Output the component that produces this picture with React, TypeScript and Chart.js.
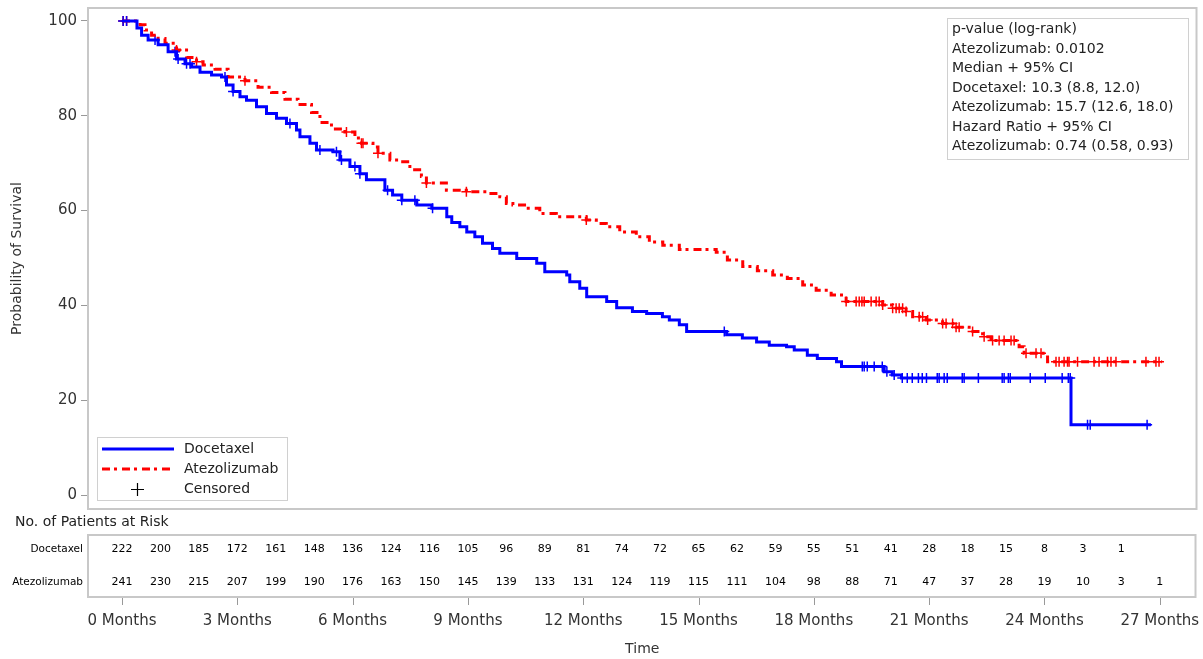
import React, { useEffect, useRef } from "react";
import { Chart, registerables } from "chart.js";

Chart.register(...registerables);

const FONT = "'DejaVu Sans', sans-serif";

// Kaplan-Meier step data (months, survival %)
const docetaxelTime = [0, 0.39, 0.51, 0.68, 0.94, 1.2, 1.42, 1.64, 1.81, 2.03, 2.33, 2.59, 2.72, 2.89, 3.07, 3.24, 3.5, 3.76, 4.02, 4.28, 4.54, 4.63, 4.89, 5.06, 5.49, 5.67, 5.93, 6.19, 6.36, 6.84, 7.04, 7.28, 7.67, 8.06, 8.45, 8.58, 8.79, 8.97, 9.18, 9.38, 9.64, 9.83, 10.27, 10.79, 11.0, 11.57, 11.65, 11.91, 12.09, 12.61, 12.87, 13.28, 13.65, 14.06, 14.24, 14.5, 14.69, 15.73, 16.14, 16.51, 16.84, 17.29, 17.49, 17.83, 18.09, 18.59, 18.72, 19.83, 20.04, 20.28, 24.69, 26.77];
const docetaxelSurv = [100, 98.5, 97, 96, 95, 93.5, 92, 91, 90.3, 89.2, 88.6, 88.2, 86.5, 85.1, 84, 83.3, 81.9, 80.5, 79.5, 78.4, 77, 75.6, 74.2, 72.8, 72.4, 70.7, 69.3, 67.8, 66.5, 64.3, 63.3, 62.2, 61.2, 60.5, 58.7, 57.5, 56.6, 55.5, 54.5, 53.1, 52, 51, 49.9, 48.9, 47.1, 46.4, 45, 43.6, 41.8, 40.8, 39.5, 38.7, 38.3, 37.6, 36.9, 35.9, 34.5, 33.8, 33.1, 32.3, 31.6, 31.3, 30.6, 29.5, 28.8, 28.1, 27.1, 26, 25.3, 24.7, 14.8, 14.8];
const docetaxelCensor = [0.03, 0.12, 0.86, 1.38, 1.46, 1.68, 1.77, 2.68, 2.89, 4.37, 5.15, 5.58, 5.71, 6.06, 6.19, 6.91, 7.28, 7.62, 8.08, 15.67, 19.26, 19.31, 19.39, 19.57, 19.78, 19.9, 20.09, 20.3, 20.43, 20.56, 20.72, 20.82, 20.93, 21.21, 21.26, 21.39, 21.47, 21.86, 21.91, 22.28, 22.9, 22.95, 23.06, 23.11, 23.63, 24.02, 24.46, 24.62, 24.67, 25.12, 25.19, 26.67];

const atezoTime = [0, 0.47, 0.6, 0.77, 0.94, 1.12, 1.42, 1.68, 1.94, 2.11, 2.42, 2.76, 3.2, 3.54, 3.89, 4.24, 4.58, 4.93, 5.15, 5.45, 5.8, 6.06, 6.23, 6.53, 6.66, 6.97, 7.23, 7.49, 7.79, 7.92, 8.44, 8.96, 9.48, 9.83, 10.0, 10.17, 10.52, 10.87, 11.3, 12.08, 12.34, 12.6, 12.95, 13.38, 13.72, 14.07, 14.5, 15.46, 15.75, 16.15, 16.53, 16.93, 17.31, 17.71, 18.06, 18.45, 18.84, 19.79, 20.05, 20.4, 20.57, 20.92, 21.35, 21.7, 22.04, 22.39, 22.61, 23.34, 23.47, 24.08, 27.06];
const atezoSurv = [100, 99.2, 98.1, 97, 96.3, 95.3, 93.9, 92.3, 91.4, 90.7, 89.8, 88.2, 87.4, 86, 84.9, 83.5, 82.4, 80.7, 78.6, 77.2, 76.6, 75.3, 74.2, 73.4, 72.1, 70.7, 70.3, 68.6, 67.2, 65.8, 64.3, 64, 63.6, 62.9, 61.5, 61.2, 60.5, 59.4, 58.7, 58, 57.3, 56.6, 55.5, 54.5, 53.4, 52.7, 51.8, 51.2, 49.6, 48.2, 47.3, 46.4, 45.7, 44.3, 43.2, 42.2, 40.8, 40.1, 39.4, 38.7, 37.6, 36.9, 36.2, 35.4, 34.5, 33.4, 32.6, 31.3, 29.9, 28.1, 28.1];
const atezoCensor = [0.03, 0.12, 1.42, 1.94, 3.2, 5.84, 6.23, 6.27, 6.66, 7.92, 8.96, 12.08, 18.84, 19.1, 19.18, 19.25, 19.31, 19.49, 19.62, 19.7, 19.79, 20.05, 20.14, 20.22, 20.31, 20.4, 20.74, 20.83, 20.96, 21.35, 21.44, 21.61, 21.7, 21.78, 22.13, 22.43, 22.65, 22.82, 22.95, 23.13, 23.21, 23.52, 23.78, 23.91, 24.3, 24.38, 24.51, 24.6, 24.64, 24.86, 25.29, 25.42, 25.64, 25.73, 25.86, 26.64, 26.9, 26.98];

// Axis ticks
const xTickMonths = [0, 3, 6, 9, 12, 15, 18, 21, 24, 27];
const yTickValues = [0, 20, 40, 60, 80, 100];

// Number at risk
const riskMonths = [0, 1, 2, 3, 4, 5, 6, 7, 8, 9, 10, 11, 12, 13, 14, 15, 16, 17, 18, 19, 20, 21, 22, 23, 24, 25, 26, 27];
const docetaxelRisk = [222, 200, 185, 172, 161, 148, 136, 124, 116, 105, 96, 89, 81, 74, 72, 65, 62, 59, 55, 51, 41, 28, 18, 15, 8, 3, 1];
const atezoRisk = [241, 230, 215, 207, 199, 190, 176, 163, 150, 145, 139, 133, 131, 124, 119, 115, 111, 104, 98, 88, 71, 47, 37, 28, 19, 10, 3, 1];

const statsLines = [
  "p-value (log-rank)",
  "Atezolizumab: 0.0102",
  "Median + 95% CI",
  "Docetaxel: 10.3 (8.8, 12.0)",
  "Atezolizumab: 15.7 (12.6, 18.0)",
  "Hazard Ratio + 95% CI",
  "Atezolizumab: 0.74 (0.58, 0.93)",
];

const X_MIN = -0.884;
const X_MAX = 27.955;
const Y_MIN = -2.95;
const Y_MAX = 102.74;

const BLUE = "#0000ff";
const RED = "#ff0000";
const DASH = [8, 4, 3, 5];

function survAt(times: number[], surv: number[], t: number) {
  let v = surv[0];
  for (let i = 0; i < times.length; i++) {
    if (times[i] <= t) v = surv[i];
    else break;
  }
  return v;
}

const extrasPlugin = {
  id: "kmExtras",
  afterDraw(chart: any) {
    const { ctx, chartArea, scales } = chart;
    const xs = scales.x;
    const L = chartArea.left;
    const R = chartArea.right;
    ctx.save();
    // plot frame
    ctx.strokeStyle = "#c8c8c8";
    ctx.lineWidth = 2;
    ctx.strokeRect(L, chartArea.top, R - L, chartArea.bottom - chartArea.top);

    // stats box
    const bx = 947, by = 18, bw = 241, bh = 141;
    ctx.fillStyle = "#ffffff";
    ctx.fillRect(bx, by, bw, bh);
    ctx.strokeStyle = "#d0d0d0";
    ctx.lineWidth = 1;
    ctx.strokeRect(bx + 0.5, by + 0.5, bw, bh);
    ctx.fillStyle = "#222";
    ctx.font = `14px ${FONT}`;
    ctx.textAlign = "left";
    ctx.textBaseline = "middle";
    statsLines.forEach((s, i) => ctx.fillText(s, 952, 29.5 + i * 19.5));

    // legend box
    const lx = 97, ly = 437, lw = 190, lh = 63;
    ctx.fillStyle = "#ffffff";
    ctx.fillRect(lx, ly, lw, lh);
    ctx.strokeStyle = "#d0d0d0";
    ctx.strokeRect(lx + 0.5, ly + 0.5, lw, lh);
    ctx.lineWidth = 3;
    ctx.strokeStyle = BLUE;
    ctx.beginPath();
    ctx.moveTo(102, 449);
    ctx.lineTo(174, 449);
    ctx.stroke();
    ctx.strokeStyle = RED;
    ctx.setLineDash(DASH);
    ctx.beginPath();
    ctx.moveTo(102, 469);
    ctx.lineTo(174, 469);
    ctx.stroke();
    ctx.setLineDash([]);
    ctx.strokeStyle = "#000";
    ctx.lineWidth = 1.2;
    ctx.beginPath();
    ctx.moveTo(131, 489.5);
    ctx.lineTo(144, 489.5);
    ctx.moveTo(137.5, 483);
    ctx.lineTo(137.5, 496);
    ctx.stroke();
    ctx.fillStyle = "#222";
    ctx.font = `14px ${FONT}`;
    ctx.fillText("Docetaxel", 184, 449);
    ctx.fillText("Atezolizumab", 184, 469);
    ctx.fillText("Censored", 184, 489);

    // number at risk
    ctx.fillStyle = "#222";
    ctx.font = `14px ${FONT}`;
    ctx.fillText("No. of Patients at Risk", 15, 522);
    ctx.strokeStyle = "#c8c8c8";
    ctx.lineWidth = 2;
    ctx.strokeRect(L, 535, R - L - 1, 62);
    ctx.font = `10.5px ${FONT}`;
    ctx.fillStyle = "#000";
    ctx.textAlign = "right";
    ctx.fillText("Docetaxel", 83, 549.5);
    ctx.fillText("Atezolizumab", 83, 582);
    ctx.textAlign = "center";
    ctx.font = `11px ${FONT}`;
    docetaxelRisk.forEach((n, i) => ctx.fillText(String(n), xs.getPixelForValue(riskMonths[i]), 549.5));
    atezoRisk.forEach((n, i) => ctx.fillText(String(n), xs.getPixelForValue(riskMonths[i]), 582));

    // x tick marks below the risk table
    ctx.strokeStyle = "#999";
    ctx.lineWidth = 1;
    ctx.beginPath();
    xs.ticks.forEach((t: any) => {
      const px = Math.round(xs.getPixelForValue(t.value)) + 0.5;
      ctx.moveTo(px, 598);
      ctx.lineTo(px, 605);
    });
    ctx.stroke();
    ctx.restore();
  },
};

export default function App() {
  const ref = useRef<HTMLCanvasElement | null>(null);
  useEffect(() => {
    if (!ref.current) return;
    const docLine = docetaxelTime.map((t, i) => ({ x: t, y: docetaxelSurv[i] }));
    const atzLine = atezoTime.map((t, i) => ({ x: t, y: atezoSurv[i] }));
    const docCens = docetaxelCensor.map((t) => ({ x: t, y: survAt(docetaxelTime, docetaxelSurv, t) }));
    const atzCens = atezoCensor.map((t) => ({ x: t, y: survAt(atezoTime, atezoSurv, t) }));
    const zeroPad = (s: any) => {
      s.paddingLeft = 0;
      s.paddingRight = 0;
      s.paddingTop = 0;
      s.paddingBottom = 0;
    };
    const chart = new Chart(ref.current, {
      type: "line",
      data: {
        datasets: [
          {
            label: "Docetaxel",
            data: docLine,
            borderColor: BLUE,
            borderWidth: 3,
            stepped: true,
            pointRadius: 0,
            fill: false,
          },
          {
            label: "Atezolizumab",
            data: atzLine,
            borderColor: RED,
            borderWidth: 3,
            borderDash: DASH,
            stepped: true,
            pointRadius: 0,
            fill: false,
          },
          {
            type: "scatter",
            label: "Docetaxel censored",
            data: docCens,
            pointStyle: "cross",
            pointRadius: 5,
            borderColor: BLUE,
            borderWidth: 1.5,
            showLine: false,
          } as any,
          {
            type: "scatter",
            label: "Atezolizumab censored",
            data: atzCens,
            pointStyle: "cross",
            pointRadius: 5,
            borderColor: RED,
            borderWidth: 1.5,
            showLine: false,
          } as any,
        ],
      },
      options: {
        animation: false,
        responsive: false,
        events: [],
        layout: { padding: { top: 8, right: 6, left: 0, bottom: 0 } },
        plugins: { legend: { display: false }, tooltip: { enabled: false } },
        scales: {
          x: {
            type: "linear",
            position: "bottom",
            min: X_MIN,
            max: X_MAX,
            afterBuildTicks: (s: any) => {
              s.ticks = xTickMonths.map((v) => ({ value: v }));
            },
            afterFit: (s: any) => {
              s.height = 150;
              zeroPad(s);
            },
            grid: { display: false, drawTicks: false },
            border: { display: false },
            ticks: {
              padding: 103,
              color: "#333",
              autoSkip: false,
              maxRotation: 0,
              font: { family: FONT, size: 15 },
              callback: (v: any) => `${v} Months`,
            },
            title: {
              display: true,
              text: "Time",
              color: "#333",
              font: { family: FONT, size: 14 },
              padding: { top: 0, bottom: 1 },
            },
          },
          y: {
            type: "linear",
            min: Y_MIN,
            max: Y_MAX,
            afterBuildTicks: (s: any) => {
              s.ticks = yTickValues.map((v) => ({ value: v }));
            },
            afterFit: (s: any) => {
              s.width = 88;
              zeroPad(s);
            },
            grid: { drawOnChartArea: false, drawTicks: true, tickLength: 7, color: "#999" },
            border: { display: false },
            ticks: {
              padding: 4,
              color: "#333",
              font: { family: FONT, size: 15 },
            },
            title: {
              display: true,
              text: "Probability of Survival",
              color: "#333",
              font: { family: FONT, size: 14 },
              padding: { top: 9, bottom: 0 },
            },
          },
        },
      } as any,
      plugins: [extrasPlugin],
    });
    return () => chart.destroy();
  }, []);
  return (
    <canvas
      ref={ref}
      width={1203}
      height={659}
      style={{ position: "fixed", left: 0, top: 0, width: 1203, height: 659, background: "#fff" }}
    />
  );
}
